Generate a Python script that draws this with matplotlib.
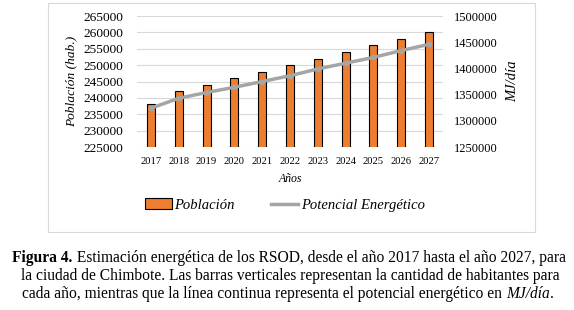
import matplotlib.pyplot as plt
from matplotlib.patches import Rectangle, Patch
from matplotlib.lines import Line2D
from matplotlib.ticker import FuncFormatter

years = ['2017', '2018', '2019', '2020', '2021', '2022', '2023', '2024', '2025', '2026', '2027']
poblacion = [238000, 242000, 244000, 246000, 248000, 250000, 252000, 254000, 256000, 258000, 260000]
potencial = [1324000, 1343000, 1354000, 1364000, 1375000, 1386000, 1399000, 1410000, 1421000, 1434000, 1446000]

plt.rcParams['font.family'] = ['Liberation Serif', 'DejaVu Serif']

W, H = 574, 310
fig = plt.figure(figsize=(W / 100, H / 100), dpi=100)
fig.patches.append(Rectangle((48 / W, 1 - 232 / H), 487 / W, 229 / H, transform=fig.transFigure,
                             fill=False, edgecolor='#D9D9D9', linewidth=0.8))

ax = fig.add_axes([137 / W, 1 - 147 / H, 306 / W, 131 / H])
x = range(len(years))
ax.bar(x, poblacion, width=0.29, color='#ED7D31', edgecolor='black', linewidth=0.8, zorder=3)
ax.set_ylim(225000, 265000)
ax.set_yticks(range(225000, 265001, 5000))
ax.set_xlim(-0.5, len(years) - 0.5)
ax.set_xticks(list(x))
ax.set_xticklabels(years, fontsize=7.6)
ax.tick_params(axis='y', labelsize=9.6, length=0, pad=10)
ax.tick_params(axis='x', length=0, pad=7)
ax.grid(axis='y', color='#D9D9D9', linewidth=0.8, zorder=0)
for s in ax.spines.values():
    s.set_visible(False)
ax.set_ylabel('Población (hab.)', fontsize=9.6, style='italic', labelpad=4)
ax.set_xlabel('Años', fontsize=8.5, style='italic', labelpad=5)

ax2 = ax.twinx()
ax2.plot(x, potencial, color='#A5A5A5', linewidth=2.5, marker='o', markersize=3,
         markerfacecolor='#A5A5A5', markeredgecolor='#A5A5A5', zorder=4)
ax2.set_ylim(1250000, 1500000)
ax2.set_yticks(range(1250000, 1500001, 50000))
ax2.yaxis.set_major_formatter(FuncFormatter(lambda v, p: '%d' % v))
ax2.tick_params(axis='y', labelsize=9.0, length=0, pad=8)
for s in ax2.spines.values():
    s.set_visible(False)
ax2.set_ylabel('MJ/día', fontsize=10.5, style='italic', labelpad=6)

handles = [Patch(facecolor='#ED7D31', edgecolor='black', linewidth=0.8),
           Line2D([0], [0], color='#A5A5A5', linewidth=2.5)]
fig.legend(handles, ['Población', 'Potencial Energético'], loc='center',
           bbox_to_anchor=(0.4965, 1 - 205 / H), ncol=2, frameon=False,
           prop={'style': 'italic', 'size': 10.5}, handlelength=1.8,
           handletextpad=0.2, columnspacing=2.5)

# caption: each line is a few styled pieces set side by side, centred
fs = 11.2
renderer = fig.canvas.get_renderer()


def place_line(pieces, cx, y):
    texts = [fig.text(0, 1 - y / H, s, fontsize=fs, va='baseline', **kw) for s, kw in pieces]
    widths = [t.get_window_extent(renderer).width for t in texts]
    cur = cx - sum(widths) / 2
    for t, w in zip(texts, widths):
        t.set_x(cur / W)
        cur += w


place_line([('Figura 4.', {'fontweight': 'bold'}),
            (' Estimación energética de los RSOD, desde el año 2017 hasta el año 2027, para', {})],
           289, 262)
place_line([('la ciudad de Chimbote. Las barras verticales representan la cantidad de habitantes para', {})],
           290, 280)
place_line([('cada año, mientras que la línea continua representa el potencial energético en ', {}),
            ('MJ/día', {'style': 'italic'}), ('.', {})],
           288, 298)

fig.savefig('out.png', dpi=100)
